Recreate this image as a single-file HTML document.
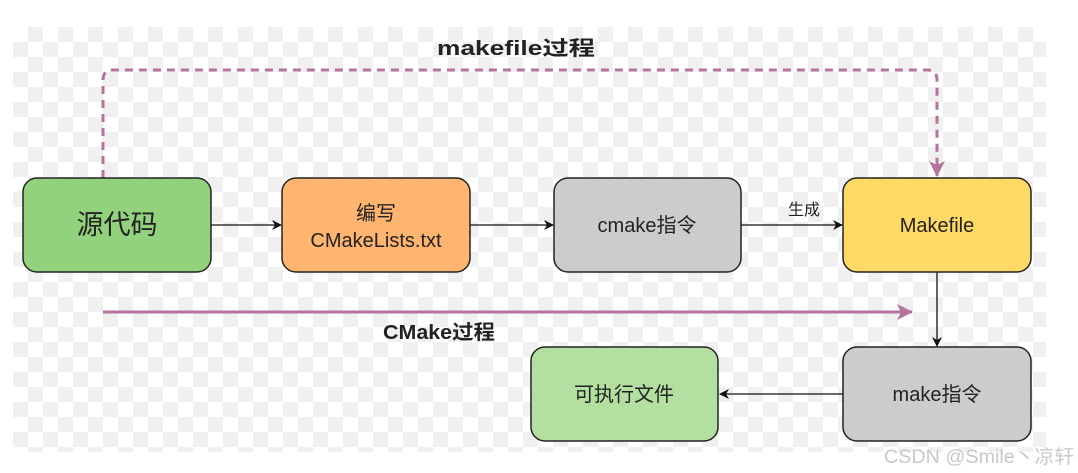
<!DOCTYPE html>
<html><head><meta charset="utf-8"><style>
html,body{margin:0;padding:0;background:#fff;width:1078px;height:473px;overflow:hidden}
.bg{position:absolute;left:13px;top:27px;width:1033px;height:425px;
background-color:#fff;
background-image:conic-gradient(#f0f0f0 25%,#fff 0 50%,#f0f0f0 0 75%,#fff 0);
background-size:30px 30px;background-position:0 0}
svg{position:absolute;left:0;top:0}
text{font-family:"Liberation Sans","Noto Sans CJK SC",sans-serif;fill:#222}
</style></head><body>
<div class="bg"></div>
<svg width="1078" height="473" viewBox="0 0 1078 473">
<defs>
<marker id="a" markerWidth="10" markerHeight="10" refX="9" refY="5" orient="auto" markerUnits="userSpaceOnUse"><path d="M0,0 L10,5 L0,10 L3,5z" fill="#111"/></marker>
<marker id="p" markerWidth="16" markerHeight="16" refX="15" refY="8" orient="auto" markerUnits="userSpaceOnUse"><path d="M0,0 L16,8 L0,16 L4,8z" fill="#b5739d"/></marker>
</defs>
<path d="M103,178 V80 Q103,70 113,70 H927 Q937,70 937,80 V176" fill="none" stroke="#b5739d" stroke-width="3" stroke-dasharray="8,6" marker-end="url(#p)"/>
<line x1="103" y1="312" x2="912" y2="312" stroke="#b5739d" stroke-width="3" marker-end="url(#p)"/>
<g stroke="#111" stroke-width="1.3" fill="none">
<line x1="211" y1="225" x2="281" y2="225" marker-end="url(#a)"/>
<line x1="470" y1="225" x2="553" y2="225" marker-end="url(#a)"/>
<line x1="741" y1="225" x2="842" y2="225" marker-end="url(#a)"/>
<line x1="937" y1="272" x2="937" y2="346" marker-end="url(#a)"/>
<line x1="843" y1="394" x2="720" y2="394" marker-end="url(#a)"/>
</g>
<g stroke="#222" stroke-width="1.5">
<rect x="23" y="178" width="188" height="94" rx="14" fill="#93d27c"/>
<rect x="282" y="178" width="188" height="94" rx="14" fill="#ffb570"/>
<rect x="554" y="178" width="187" height="94" rx="14" fill="#cccccc"/>
<rect x="843" y="178" width="188" height="94" rx="14" fill="#ffd966"/>
<rect x="843" y="347" width="188" height="94" rx="14" fill="#cccccc"/>
<rect x="531" y="347" width="187" height="94" rx="14" fill="#b3e0a0"/>
</g>
<g text-anchor="middle">
<text x="117" y="234" font-size="27">源代码</text>
<text x="376" y="220" font-size="20">编写</text>
<text x="376" y="247" font-size="20">CMakeLists.txt</text>
<text x="647" y="232" font-size="20">cmake指令</text>
<text x="937" y="232" font-size="20">Makefile</text>
<text x="937" y="401" font-size="20">make指令</text>
<text x="624" y="401" font-size="20">可执行文件</text>
<text x="804" y="215" font-size="16">生成</text>
<text x="516" y="55" font-size="20" font-weight="bold" textLength="158" lengthAdjust="spacingAndGlyphs">makefile过程</text>
<text x="439" y="339" font-size="20" font-weight="bold" textLength="112" lengthAdjust="spacingAndGlyphs">CMake过程</text>
</g>
<text x="884" y="463" font-size="19" textLength="190" lengthAdjust="spacingAndGlyphs" style="fill:#c8c8c8">CSDN @Smile丶凉轩</text>
</svg>
</body></html>
